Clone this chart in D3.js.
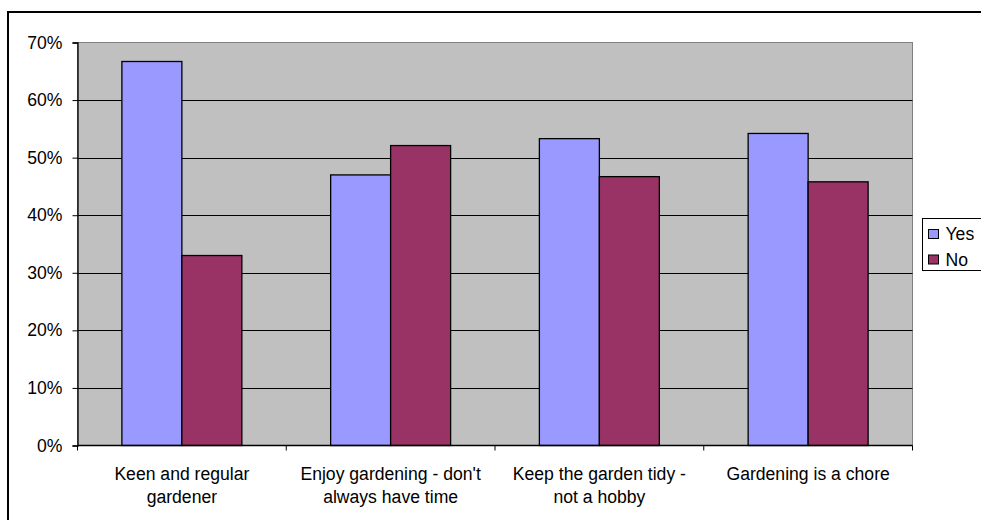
<!DOCTYPE html>
<html>
<head>
<meta charset="utf-8">
<script src="https://cdn.jsdelivr.net/npm/d3@7"></script>
<style>
  html, body { margin: 0; padding: 0; background: #fff; }
  svg { display: block; font-family: "Liberation Sans", Arial, sans-serif; }
</style>
</head>
<body>
<svg id="chart" width="981" height="520"></svg>
<script>
// Survey: attitude to gardening, share answering Yes / No
const categories = [
  ["Keen and regular", "gardener"],
  ["Enjoy gardening - don't", "always have time"],
  ["Keep the garden tidy -", "not a hobby"],
  ["Gardening is a chore"]
];
const seriesNames = ["Yes", "No"];
const yesValues = [66.7, 47.0, 53.3, 54.2];
const noValues  = [33.0, 52.1, 46.7, 45.8];
const yTicks = [0, 10, 20, 30, 40, 50, 60, 70];
const seriesColors = ["#9999ff", "#993366"];

const svg = d3.select("#chart");
const plot = { left: 77.5, right: 912.5, top: 42.5, bottom: 445.5 };
const fontSize = 17.6;

// outer chart frame
svg.append("rect")
  .attr("x", 8).attr("y", 12).attr("width", 1000).attr("height", 540)
  .attr("fill", "#fff").attr("stroke", "#000").attr("stroke-width", 2);

const catKeys = categories.map(c => c.join(" "));
const x0 = d3.scaleBand().domain(catKeys).range([plot.left, plot.right]).padding(0);
const x1 = d3.scaleBand().domain(seriesNames).range([0, x0.bandwidth()]).paddingInner(0).paddingOuter(0.74);
const y = d3.scaleLinear().domain([0, 70]).range([plot.bottom, plot.top]);

// plot background
svg.append("rect")
  .attr("x", plot.left).attr("y", plot.top)
  .attr("width", plot.right - plot.left).attr("height", plot.bottom - plot.top)
  .attr("fill", "#c0c0c0").attr("stroke", "#808080").attr("stroke-width", 1);

// horizontal gridlines
svg.append("g").selectAll("line")
  .data(yTicks.filter(t => t > 0 && t < 70))
  .join("line")
  .attr("x1", plot.left).attr("x2", plot.right)
  .attr("y1", d => Math.round(y(d)) + 0.5).attr("y2", d => Math.round(y(d)) + 0.5)
  .attr("stroke", "#000").attr("stroke-width", 1);

// bars
const rows = catKeys.map((k, i) => ({ key: k, values: [yesValues[i], noValues[i]] }));
const groups = svg.append("g").selectAll("g")
  .data(rows).join("g")
  .attr("transform", d => `translate(${x0(d.key)},0)`);
groups.selectAll("rect")
  .data(d => d.values.map((v, j) => ({ name: seriesNames[j], value: v, color: seriesColors[j] })))
  .join("rect")
  .attr("x", d => x1(d.name))
  .attr("y", d => y(d.value))
  .attr("width", x1.bandwidth())
  .attr("height", d => plot.bottom - y(d.value))
  .attr("fill", d => d.color)
  .attr("stroke", "#000").attr("stroke-width", 1.3);

// y axis
const yAxis = d3.axisLeft(y).tickValues(yTicks).tickSize(5).tickPadding(10)
  .tickFormat(d => d + "%");
const gy = svg.append("g").attr("transform", `translate(${plot.left},0)`).call(yAxis);
gy.select(".domain").attr("stroke", "#000").attr("stroke-width", 1.3);
gy.selectAll(".tick line").attr("stroke", "#000");
gy.selectAll(".tick text").attr("font-size", fontSize).attr("font-family", "Liberation Sans, Arial, sans-serif").attr("fill", "#000");

// x axis: ticks at category boundaries
const boundaries = d3.range(catKeys.length + 1).map(i => plot.left + i * x0.step());
svg.append("line")
  .attr("x1", plot.left).attr("x2", plot.right)
  .attr("y1", plot.bottom).attr("y2", plot.bottom)
  .attr("stroke", "#000").attr("stroke-width", 1.3);
svg.append("g").selectAll("line").data(boundaries).join("line")
  .attr("x1", d => d).attr("x2", d => d)
  .attr("y1", plot.bottom).attr("y2", plot.bottom + 5)
  .attr("stroke", "#000");

// category labels
const lab = svg.append("g").selectAll("text").data(categories).join("text")
  .attr("x", (d, i) => x0(catKeys[i]) + x0.bandwidth() / 2)
  .attr("y", 480)
  .attr("text-anchor", "middle")
  .attr("font-size", fontSize)
  .attr("fill", "#000");
lab.selectAll("tspan").data(d => d).join("tspan")
  .attr("x", function () { return this.parentNode.getAttribute("x"); })
  .attr("dy", (d, i) => i === 0 ? 0 : 22.7)
  .text(d => d);

// legend
const legend = svg.append("g");
legend.append("rect")
  .attr("x", 922.5).attr("y", 218.5).attr("width", 80).attr("height", 52)
  .attr("fill", "#fff").attr("stroke", "#000").attr("stroke-width", 1);
const items = legend.selectAll("g.item").data(seriesNames).join("g")
  .attr("class", "item")
  .attr("transform", (d, i) => `translate(928.5,${229.5 + i * 25.5})`);
items.append("rect")
  .attr("width", 10).attr("height", 9)
  .attr("fill", (d, i) => seriesColors[i])
  .attr("stroke", "#000").attr("stroke-width", 1);
items.append("text")
  .attr("x", 17).attr("y", 4.5).attr("dy", "0.36em")
  .attr("font-size", fontSize).attr("fill", "#000")
  .text(d => d);
</script>
</body>
</html>
